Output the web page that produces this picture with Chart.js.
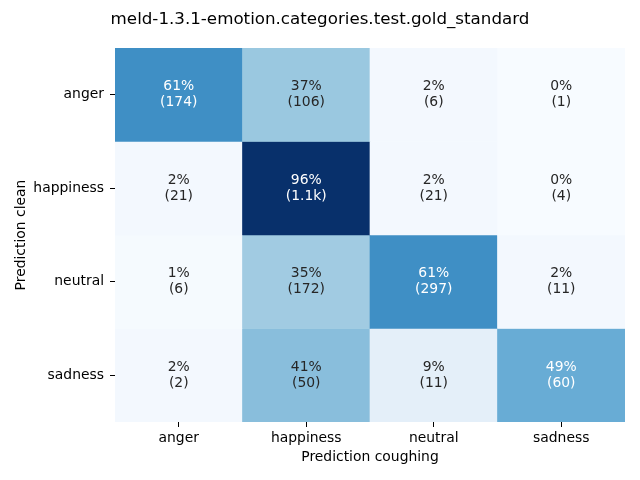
<!DOCTYPE html>
<html><head><meta charset="utf-8">
<script src="https://cdn.jsdelivr.net/npm/chart.js@4/dist/chart.umd.min.js"></script>
<style>html,body{margin:0;padding:0;background:#fff}#wrap{width:640px;height:480px}</style>
</head><body><div id="wrap"><canvas id="c" width="640" height="480"></canvas></div>
<script>
const titleText = 'meld-1.3.1-emotion.categories.test.gold_standard';
const colLabels = ['anger', 'happiness', 'neutral', 'sadness'];
const rowLabels = ['anger', 'happiness', 'neutral', 'sadness'];
const xTitle = 'Prediction coughing';
const yTitle = 'Prediction clean';
const pctAnger     = [0.61, 0.37, 0.02, 0.00];
const pctHappiness = [0.02, 0.96, 0.02, 0.00];
const pctNeutral   = [0.01, 0.35, 0.61, 0.02];
const pctSadness   = [0.02, 0.41, 0.09, 0.49];
const cntAnger     = ['174', '106', '6', '1'];
const cntHappiness = ['21', '1.1k', '21', '4'];
const cntNeutral   = ['6', '172', '297', '11'];
const cntSadness   = ['2', '50', '11', '60'];

const pctRows = [pctAnger, pctHappiness, pctNeutral, pctSadness];
const cntRows = [cntAnger, cntHappiness, cntNeutral, cntSadness];
const vmax = Math.max(...pctRows.flat());

const blues = ['#f7fbff','#deebf7','#c6dbef','#9ecae1','#6baed6','#4292c6','#2171b5','#08519c','#08306b'];
function hex2rgb(h){return [parseInt(h.slice(1,3),16),parseInt(h.slice(3,5),16),parseInt(h.slice(5,7),16)];}
function bluesColor(v){
  v=Math.max(0,Math.min(1,v/vmax));
  const p=v*(blues.length-1), i=Math.min(Math.floor(p),blues.length-2), f=p-i;
  const a=hex2rgb(blues[i]), b=hex2rgb(blues[i+1]);
  const c=a.map((x,k)=>Math.round(x+(b[k]-x)*f));
  return 'rgb('+c.join(',')+')';
}

const n = rowLabels.length;
const datasets = rowLabels.map((r, i) => ({
  label: r,
  data: colLabels.map(() => [n - i - 1, n - i]),
  backgroundColor: pctRows[i].map(bluesColor),
  borderWidth: 0,
  grouped: false,
  barPercentage: 1,
  categoryPercentage: 1
}));

const FONT = "'DejaVu Sans', sans-serif";
const cellText = {
  id: 'cellText',
  afterDatasetsDraw(chart) {
    const {ctx, scales: {x, y}} = chart;
    ctx.save();
    ctx.font = '13.9px ' + FONT;
    ctx.textAlign = 'center';
    ctx.textBaseline = 'middle';
    rowLabels.forEach((r, i) => {
      colLabels.forEach((c, j) => {
        const cx = x.getPixelForValue(j);
        const cy = y.getPixelForValue(n - i - 0.5);
        const v = pctRows[i][j];
        ctx.fillStyle = v / vmax >= 0.45 ? '#ffffff' : '#262626';
        ctx.fillText(Math.round(v * 100) + '%', cx, cy - 8);
        ctx.fillText('(' + cntRows[i][j] + ')', cx, cy + 8);
      });
    });
    ctx.restore();
  }
};

new Chart(document.getElementById('c'), {
  type: 'bar',
  data: { labels: colLabels, datasets },
  options: {
    responsive: false,
    animation: false,
    layout: { padding: 0 },
    plugins: {
      legend: { display: false },
      tooltip: { enabled: false },
      title: {
        display: true, text: titleText, color: '#000',
        font: { family: FONT, size: 16.7, weight: 'normal' },
        padding: { top: 10, bottom: 18 }
      }
    },
    scales: {
      x: {
        type: 'category',
        offset: true,
        grid: { offset: false, drawOnChartArea: false, drawTicks: true, tickLength: 5, tickColor: '#000' },
        border: { display: false },
        ticks: { color: '#000', font: { family: FONT, size: 13.9 }, padding: 3, maxRotation: 0 },
        title: { display: true, text: xTitle, color: '#000', font: { family: FONT, size: 13.9 }, padding: { top: 0, bottom: 14 } },
        afterFit(s) { s.height = 58; }
      },
      y: {
        type: 'linear', min: 0, max: n,
        afterBuildTicks(s) { s.ticks = rowLabels.map((r, i) => ({ value: n - i - 0.5 })); },
        grid: { drawOnChartArea: false, drawTicks: true, tickLength: 5, tickColor: '#000' },
        border: { display: false },
        ticks: {
          color: '#000', font: { family: FONT, size: 13.9 }, padding: 6,
          callback: (v) => rowLabels[n - 1 - Math.floor(v)]
        },
        title: { display: true, text: yTitle, color: '#000', font: { family: FONT, size: 13.9 }, padding: { top: 13, bottom: 0 } },
        afterFit(s) { s.width = 115; }
      },
      yRight: {
        type: 'linear', position: 'right', min: 0, max: 1, display: true,
        grid: { display: false, drawTicks: false },
        border: { display: false },
        ticks: { display: false },
        afterFit(s) { s.width = 15; }
      }
    }
  },
  plugins: [cellText]
});
</script></body></html>
